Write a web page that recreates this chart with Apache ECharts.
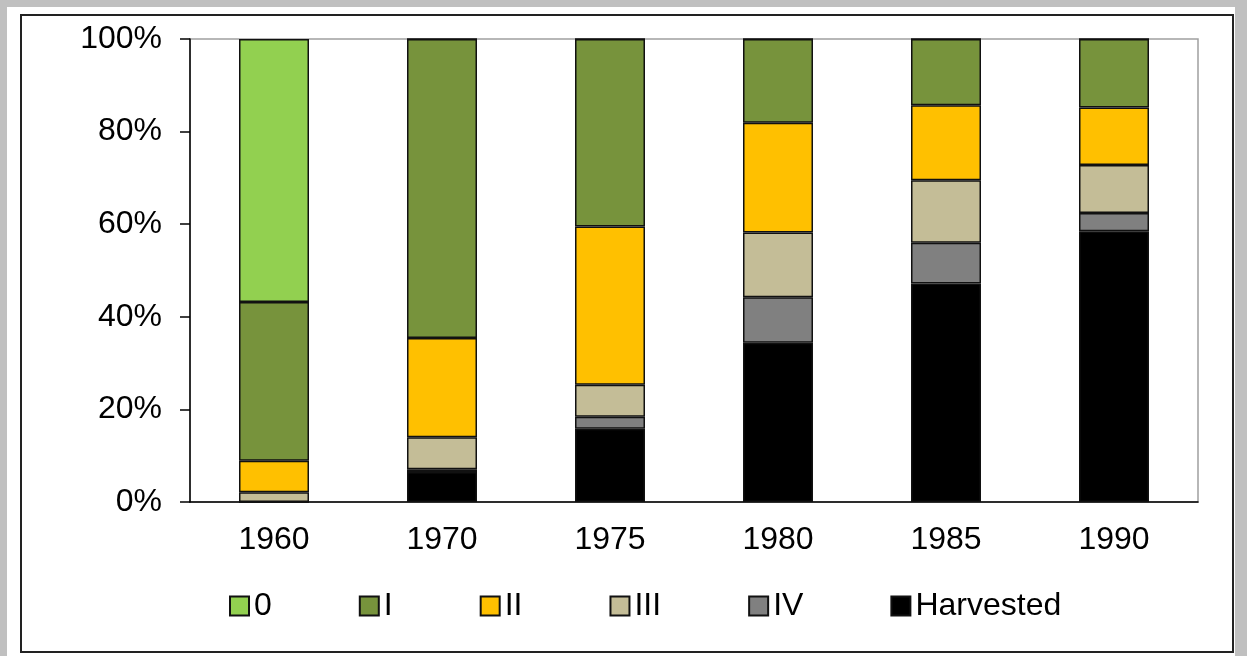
<!DOCTYPE html>
<html>
  <head>
    <meta charset="utf-8" />
    <title>Stand classes</title>
    <script src="https://cdn.jsdelivr.net/npm/echarts@6/dist/echarts.min.js"></script>
    <style>
      body { margin: 0; background: #c0c0c0; }
    </style>
  </head>
  <body>
    <div id="main" style="width:1247px;height:656px;"></div>
    <script type="text/javascript">
      // data (percent of area)
      const years = ["1960", "1970", "1975", "1980", "1985", "1990"];
      const harvested = [0, 6.5, 15.8, 34.4, 47.2, 58.5];
      const classIV = [0, 0.6, 2.6, 9.8, 8.8, 3.9];
      const classIII = [2.1, 6.9, 6.9, 14.0, 13.5, 10.4];
      const classII = [6.8, 21.4, 34.2, 23.7, 16.2, 12.4];
      const classI = [34.3, 64.6, 40.5, 18.1, 14.3, 14.8];
      const class0 = [56.8, 0, 0, 0, 0, 0];
      const yTicks = [0, 20, 40, 60, 80, 100];

      const font = "'Liberation Sans', Arial, sans-serif";
      const chart = echarts.init(document.getElementById("main"));

      const bar = (name, data, color) => ({
        name: name,
        type: "bar",
        stack: "all",
        barWidth: 70,
        data: data,
        itemStyle: { color: color, borderColor: "#111", borderWidth: 1.5 },
      });

      chart.setOption({
        animation: false,
        textStyle: { fontFamily: font },
        graphic: [
          { type: "rect", z: -10, shape: { x: 7, y: 7, width: 1228, height: 649 }, style: { fill: "#fff" } },
          { type: "rect", z: -9, shape: { x: 21, y: 15, width: 1212, height: 637 }, style: { fill: "#fff", stroke: "#222", lineWidth: 2 } },
        ],
        grid: {
          left: 190,
          right: 49,
          top: 39,
          bottom: 154,
          show: true,
          borderColor: "#a0a0a0",
          borderWidth: 1.5,
          backgroundColor: "transparent",
        },
        legend: {
          data: ["0", "I", "II", "III", "IV", "Harvested"],
          left: 224,
          top: 585,
          icon: "rect",
          itemWidth: 19,
          itemHeight: 19,
          itemGap: 87,
          textStyle: { fontSize: 32, color: "#000", fontFamily: font },
        },
        xAxis: {
          type: "category",
          data: years,
          axisLine: { lineStyle: { color: "#000", width: 1.5 } },
          axisTick: { length: 9, lineStyle: { color: "#000", width: 1.5 } },
          axisLabel: { fontSize: 32, color: "#000", margin: 22 },
        },
        yAxis: {
          type: "value",
          min: yTicks[0],
          max: yTicks[yTicks.length - 1],
          interval: yTicks[1] - yTicks[0],
          axisLine: { show: true, lineStyle: { color: "#000", width: 1.5 } },
          axisTick: { show: true, length: 10, lineStyle: { color: "#000", width: 1.5 } },
          axisLabel: { fontSize: 32, color: "#000", margin: 28, formatter: "{value}%" },
          splitLine: { show: false },
        },
        series: [
          bar("Harvested", harvested, "#000000"),
          bar("IV", classIV, "#808080"),
          bar("III", classIII, "#c4bd97"),
          bar("II", classII, "#ffc000"),
          bar("I", classI, "#77933c"),
          bar("0", class0, "#92d050"),
        ],
      });
    </script>
  </body>
</html>
